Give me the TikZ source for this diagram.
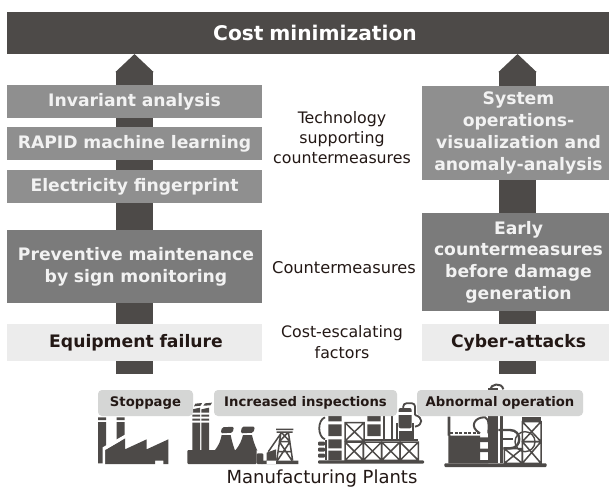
\documentclass[tikz,border=0pt]{standalone}
\usepackage{fontspec}
\setmainfont{DejaVu Sans}
\usetikzlibrary{arrows.meta,calc}
\definecolor{darkc}{HTML}{4D4A48}
\definecolor{midc}{HTML}{8F8F8F}
\definecolor{deepc}{HTML}{7B7B7B}
\definecolor{lightc}{HTML}{ECECEC}
\definecolor{tagc}{HTML}{D5D6D5}
\definecolor{inkc}{HTML}{231815}
\definecolor{paperc}{HTML}{F2F2F2}
\tikzset{
  px/.style={x=1pt,y=-1pt},
  boxbase/.style={anchor=north west,inner sep=0pt,outer sep=0pt,align=center,font=\fontsize{17.2}{21.7}\selectfont\bfseries},
  midbox/.style={boxbase,fill=midc,text=paperc},
  deepbox/.style={boxbase,fill=deepc,text=paperc},
  lightbox/.style={boxbase,fill=lightc,text=inkc},
  tag/.style={anchor=center,fill=tagc,text=inkc,rounded corners=4pt,inner sep=0pt,font=\fontsize{13.2}{15}\selectfont\bfseries},
  caption/.style={anchor=center,text=inkc,align=center,inner sep=0pt,font=\fontsize{15.8}{20}\selectfont},
  stem/.style={draw=darkc,line width=37pt,-{Triangle[length=18pt,width=37pt,color=darkc]}},
  ic/.style={fill=darkc},
  icx/.style={draw=darkc,line width=1.5pt},
  pipe/.style={draw=darkc,line width=1.8pt},
}
\newcommand{\sizedbox}[7][]{\node[#2,minimum width=#5pt,minimum height=#6pt,text width=#5pt] (#1) at (#3,#4) {#7};}
\newcommand{\xbox}[4]{\draw[icx] (#1,#2) rectangle (#3,#4) (#1,#2) -- (#3,#4) (#1,#4) -- (#3,#2);}
\newcommand{\sh}{\hspace*{6pt}}
\begin{document}
\begin{tikzpicture}[px]
\useasboundingbox (0,0) rectangle (609,488);
\fill[white] (0,0) rectangle (609,488);
\sizedbox[top]{boxbase,fill=darkc,text=white}{7}{12}{602}{42}{\hspace*{14pt}\fontsize{20.2}{24}\selectfont Cost minimization}
\coordinate (lb) at (134.5,374);
\coordinate (rb) at (517.5,374);
\draw[stem] (lb) -- (lb |- top.south);
\draw[stem] (rb) -- (rb |- top.south);
\sizedbox[inv]{midbox}{7}{85}{255}{33}{Invariant analysis}
\sizedbox[rapid]{midbox}{7}{127}{255}{33}{RAPID machine learning}
\sizedbox[elec]{midbox}{7}{170}{255}{33}{Electricity fingerprint}
\sizedbox[prev]{deepbox}{7}{230}{255}{73}{\hspace*{3pt}Preventive maintenance\\\hspace*{3pt}by sign monitoring}
\sizedbox[equip]{lightbox}{7}{324}{255}{37}{\hspace*{3pt}Equipment failure}
\sizedbox[sys]{midbox}{422}{86}{187}{94}{\sh System\\\sh operations-\\\sh visualization and\\\sh anomaly-analysis}
\sizedbox[early]{deepbox}{422}{213}{187}{98}{\sh Early\\\sh countermeasures\\\sh before damage\\\sh generation}
\sizedbox[cyber]{lightbox}{422}{324}{187}{37}{\sh Cyber-attacks}
\node[caption] (tech) at (342,138) {Technology\\supporting\\countermeasures};
\node[caption,font=\fontsize{16.2}{20}\selectfont] (cm) at (344,268) {Countermeasures};
\node[caption,font=\fontsize{15.8}{21}\selectfont] (esc) at (342,342.5) {Cost-escalating\\factors};
\node[caption,font=\fontsize{18}{22}\selectfont] (plants) at (322,479) {Manufacturing Plants};
% factory
\begin{scope}[shift={(80,370)},x=1/3*1pt,y=-1/3*1pt]
\fill[ic] (54,142) rectangle (78,150) (54,156) rectangle (78,280) (110,142) rectangle (134,150) (110,156) rectangle (134,212);
\fill[ic] (75,282) -- (75,240) -- (135,205) -- (135,238) -- (200,208) -- (200,238) -- (265,208) -- (265,282) -- (250,282) -- (250,272) -- (225,272) -- (225,282) -- cycle;
\fill[white] (68,232) -- (135,194) -- (135,205) -- (75,240) -- (75,284) -- (68,284) -- cycle;
% power plant
\fill[ic,rounded corners=1pt] (322,282) -- (322,240) -- (530,240) -- (530,282) -- cycle;
\fill[ic] (337,128) -- (337,118) -- (360,113) -- (360,128) -- cycle (364,128) -- (364,118) -- (387,113) -- (387,128) -- cycle;
\fill[ic] (337,134) rectangle (360,140) (364,134) rectangle (387,140) (337,146) rectangle (360,152) (364,146) rectangle (387,152) (337,158) rectangle (360,241) (364,158) rectangle (387,241);
\fill[ic] (342,109) -- (346,101) -- (366,99) -- (362,107) -- cycle (370,107) -- (375,100) -- (396,98) -- (391,106) -- cycle;
\fill[ic] (403,242) .. controls (418,225) and (422,210) .. (425,195) -- (452,195) .. controls (455,210) and (459,225) .. (465,242) -- cycle;
\fill[ic] (465,242) .. controls (480,225) and (485,210) .. (489,195) -- (516,195) .. controls (519,210) and (524,225) .. (532,242) -- cycle;
\fill[ic,rounded corners=1.5pt] (422,190) -- (426,172) -- (462,170) -- (458,188) -- cycle;
\fill[ic,rounded corners=1.5pt] (482,190) -- (486,170) -- (525,170) -- (520,188) -- cycle;
\fill[ic,rounded corners=1pt] (530,282) -- (530,250) -- (550,250) -- (550,282) -- cycle;
\fill[ic] (560,282) -- (560,248) -- (588,238) -- (588,282) -- cycle (545,272) rectangle (655,282);
\draw[icx] (588,178) -- (640,178) (590,186) -- (638,186) (603,186) -- (590,272) (625,186) -- (638,272) (596,215) -- (632,215) (592,245) -- (636,245) (598,215) -- (636,272) (630,215) -- (592,272) (603,186) -- (630,215) (625,186) -- (598,215) (565,245) -- (603,190);
\end{scope}
% refinery
\begin{scope}[shift={(310,380)},x=1/3*1pt,y=-1/3*1pt]
\fill[ic,rounded corners=1pt] (24,241) rectangle (342,251);
\fill[ic] (55,108) rectangle (95,124) (55,133) rectangle (95,168) (55,178) rectangle (95,205) (55,212) rectangle (95,241);
\fill[ic] (172,108) rectangle (212,124) (172,133) rectangle (212,168);
\draw[pipe] (45,112) .. controls (22,120) and (22,170) .. (45,178);
\fill[ic,rounded corners=1pt] (24,185) rectangle (45,197) (24,203) rectangle (45,215) (24,221) rectangle (45,233);
\fill[ic] (45,180) rectangle (52,241);
\xbox{105}{128}{162}{183}
\xbox{105}{186}{160}{241}
\xbox{160}{186}{215}{241}
\xbox{215}{186}{270}{241}
\xbox{270}{186}{325}{241}
\draw[pipe] (166,180) -- (325,180) (222,105) -- (222,180) (245,105) -- (245,180) (262,130) -- (262,180) (308,130) -- (308,180);
\fill[ic,rounded corners=2pt] (266,145) -- (266,84) -- (305,84) -- (305,145) -- cycle;
\fill[ic] (266,152) rectangle (305,176);
\fill[white] (262,97) rectangle (310,104);
\draw[pipe,rounded corners=3pt] (280,84) -- (280,70) -- (315,70) -- (315,105);
\draw[pipe] (315,105) .. controls (340,112) and (340,135) .. (315,140);
\end{scope}
% plant
\begin{scope}[shift={(435,380)},x=1/3*1pt,y=-1/3*1pt]
\fill[ic,rounded corners=1pt] (28,250) rectangle (335,261);
\fill[ic] (40,167) rectangle (135,250) (38,110) rectangle (46,167);
\draw[draw=darkc,line width=2pt,dash pattern=on 3pt off 1.5pt] (46,160) -- (135,160);
\draw[draw=darkc,line width=2pt] (135,160) .. controls (100,140) and (120,110) .. (150,112) .. controls (165,115) and (160,150) .. (160,160);
\fill[ic] (160,105) rectangle (190,250);
\fill[ic] (135,172) rectangle (160,186) (135,206) rectangle (160,216) (135,240) rectangle (160,250);
\fill[ic] (195,105) rectangle (205,250);
\draw[draw=darkc,line width=2pt] (165,30) .. controls (165,12) and (200,5) .. (205,28);
\fill[ic] (160,25) rectangle (190,35);
\draw[draw=darkc,line width=2.4pt] (190,150) -- (225,150) .. controls (262,150) and (262,205) .. (225,205) -- (205,205);
\draw[pipe] (205,178) -- (235,178);
\draw[draw=darkc,line width=1.4pt] (270,185) circle (30);
\xbox{208}{206}{262}{250}
\xbox{262}{125}{318}{185}
\xbox{262}{185}{318}{250}
\fill[ic] (262,112) rectangle (318,125);
\end{scope}
\node[tag,minimum width=95pt,minimum height=26pt] (stop) at (145.5,403) {Stoppage};
\node[tag,minimum width=183pt,minimum height=26pt] (insp) at (305.5,403) {Increased inspections};
\node[tag,minimum width=166pt,minimum height=26pt] (abn) at (500,403) {Abnormal operation};
\end{tikzpicture}
\end{document}
